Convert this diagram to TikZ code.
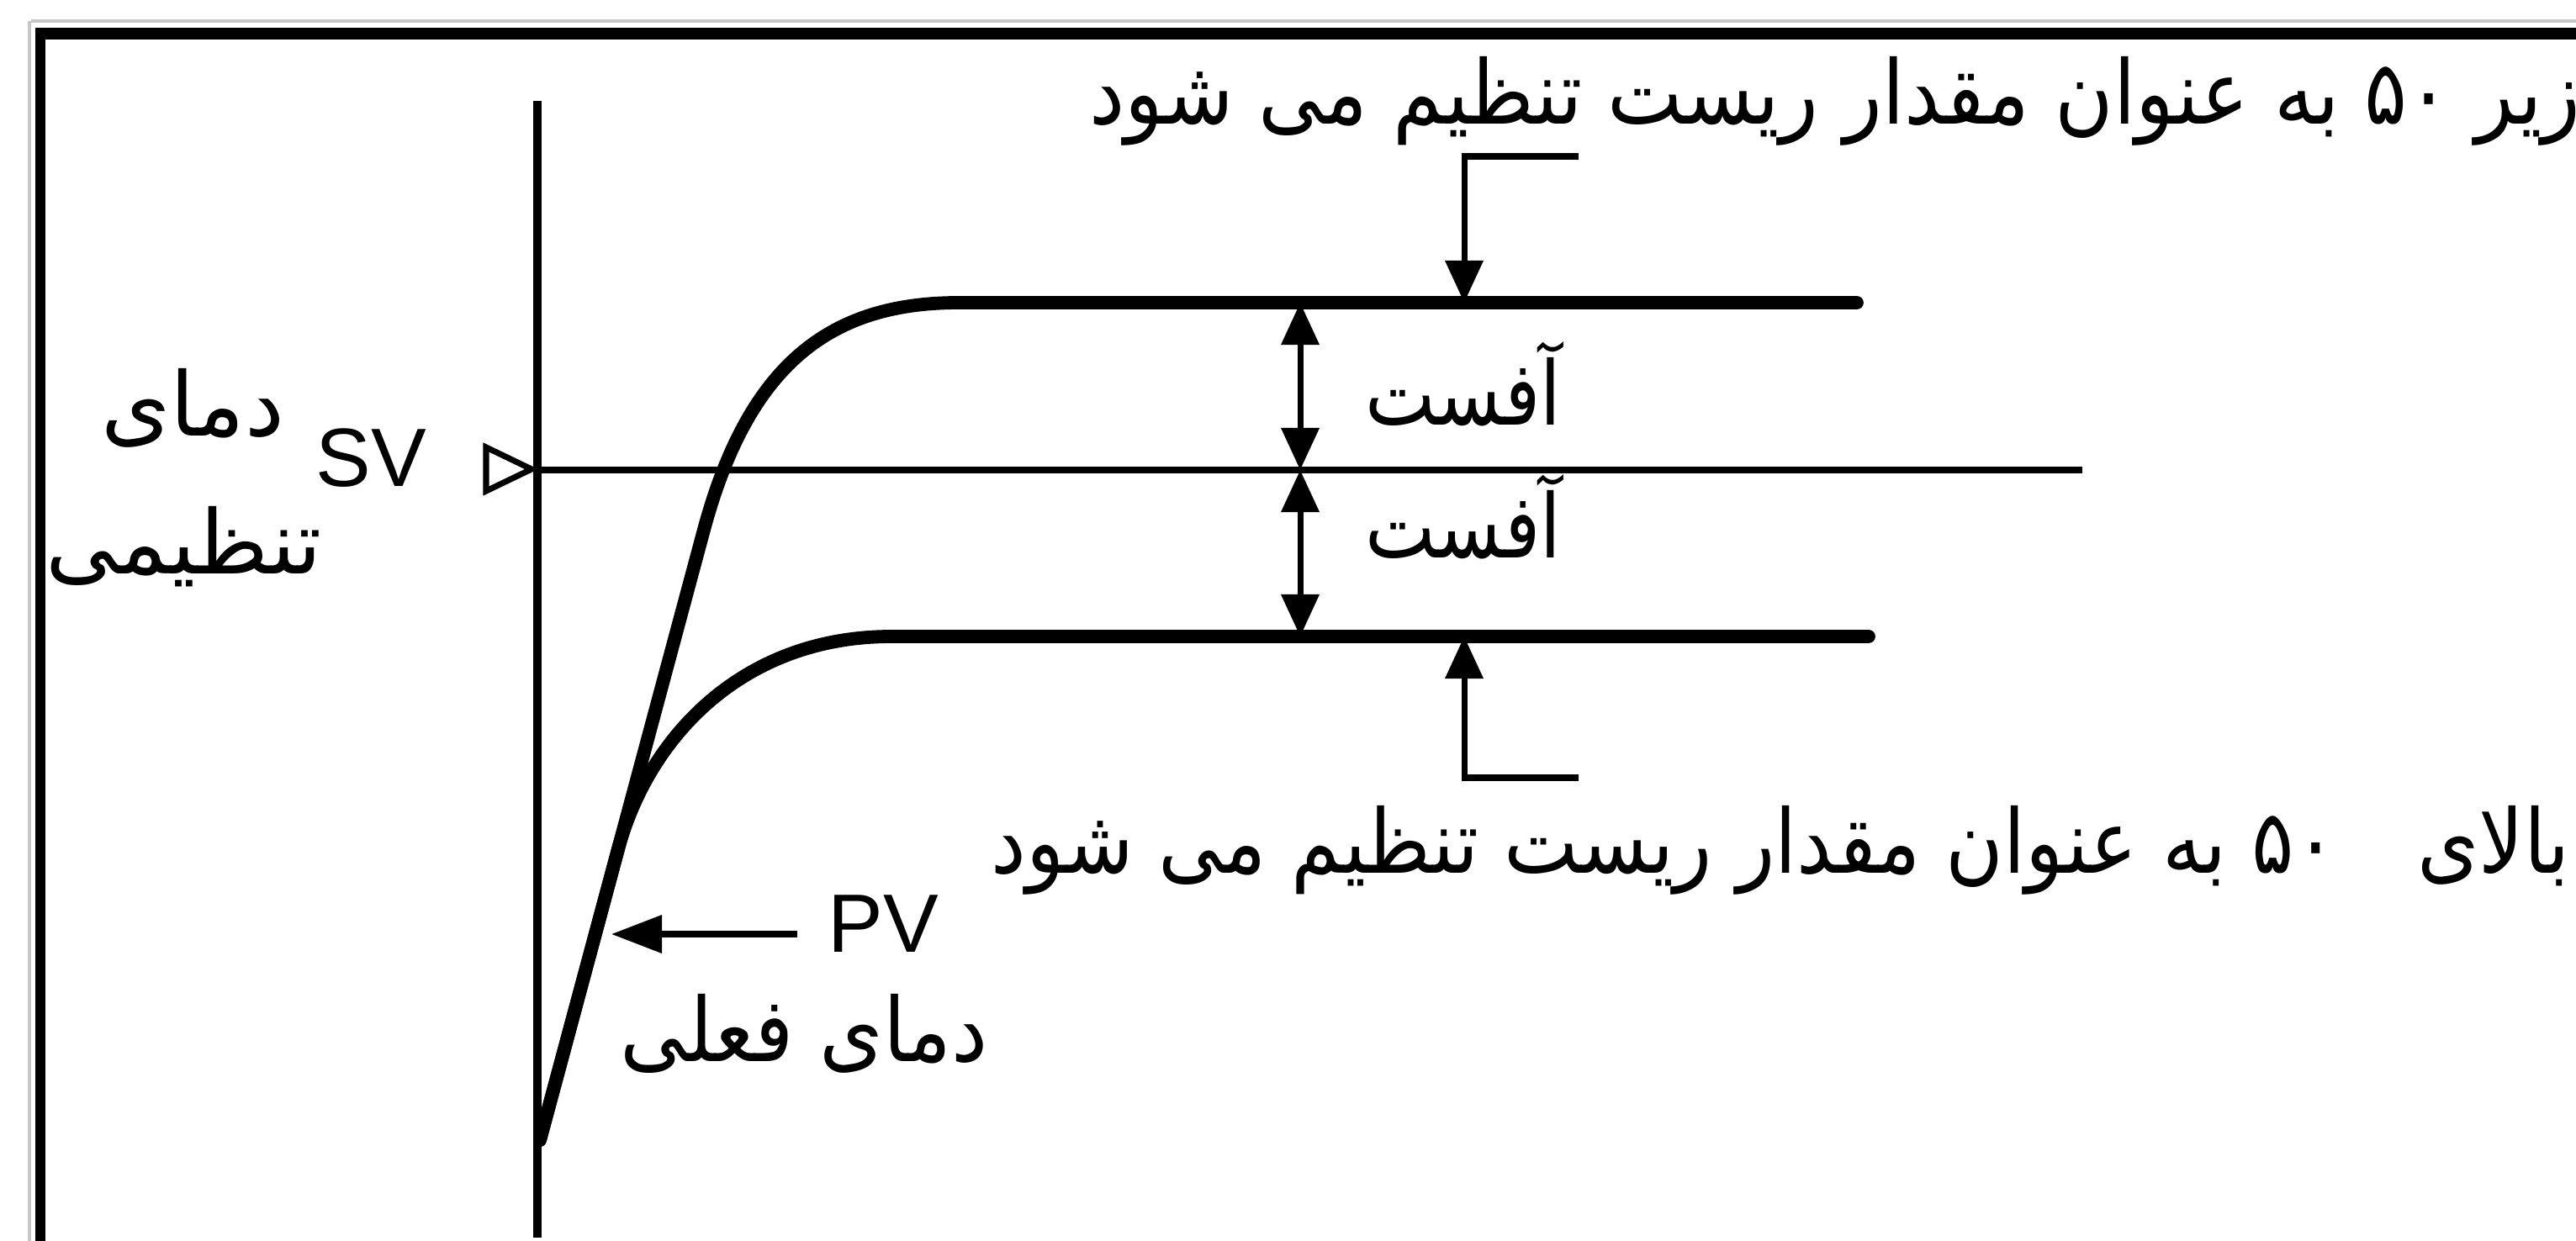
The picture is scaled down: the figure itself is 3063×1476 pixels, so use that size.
\documentclass[tikz,border=0pt]{standalone}
\usepackage{fontspec}
\usepackage{graphicx}
\setmainfont{Liberation Sans}
\newfontfamily\arabicfont[Script=Arabic]{DejaVu Sans}
\TeXXeTstate=1
\usetikzlibrary{arrows.meta}
\newcommand{\fanarrow}[2]{\scalebox{#1}[1]{#2}}
\begin{document}
\begin{tikzpicture}[x=0.01cm,y=-0.01cm,
  frameline/.style={line width=4pt},
  greyline/.style={line width=1.2pt, black!22},
  curve/.style={line width=4.5pt, line cap=round, line join=round},
  axisline/.style={line width=3.1pt},
  svline/.style={line width=2.3pt},
  thinline/.style={line width=2pt},
  headtip/.style={-{Triangle[length=5mm,width=4.4mm]}},
  twotips/.style={{Triangle[length=5mm,width=4.4mm]}-{Triangle[length=5mm,width=4.4mm]}},
  fatxt/.style={inner sep=0pt, font=\fontsize{30}{36}\arabicfont},
  lattxt/.style={inner sep=0pt, font=\fontsize{28}{34}\selectfont}]
\useasboundingbox (0,0) rectangle (3063,1476);
% frame
\draw[greyline] (37,25) -- (3063,25);
\draw[greyline] (35,25) -- (35,1476);
\draw[frameline] (42,40) -- (3063,40);
\draw[line width=3.4pt] (48,33) -- (48,1476);
% axes
\coordinate (axtop) at (639,120);
\coordinate (axbot) at (639,1472);
\coordinate (sv) at (639,559);
\coordinate (svend) at (2476,559);
\draw[axisline] (axtop) -- (axbot);
\draw[svline] (sv) -- (svend);
\draw[line width=2pt, line join=miter] (578,532) -- (632,558) -- (578,584) -- cycle;
% curves
\coordinate (o) at (642,1356);
\coordinate (ua) at (837,630);
\coordinate (ub) at (1140,360);
\coordinate (uend) at (2208,360);
\coordinate (la) at (735,1010);
\coordinate (lb) at (1060,757);
\coordinate (lend) at (2222,757);
\draw[curve] (o) -- (ua) .. controls (891,430) and (990,360) .. (ub) -- (uend);
\draw[curve] (o) -- (la) .. controls (770,880) and (880,757) .. (lb) -- (lend);
% offset arrows
\coordinate (d1) at (1546,360);
\coordinate (d2) at (1546,559);
\coordinate (d3) at (1546,757);
\draw[thinline, twotips] (d1) -- (d2);
\draw[thinline, twotips] (d2) -- (d3);
% brackets
\coordinate (b1) at (1877,186);
\coordinate (b1c) at (1741,186);
\coordinate (b1t) at (1741,360);
\coordinate (b2) at (1877,925);
\coordinate (b2c) at (1741,925);
\coordinate (b2t) at (1741,757);
\draw[thinline, headtip] (b1) -- (b1c) -- (b1t);
\draw[thinline, headtip] (b2) -- (b2c) -- (b2t);
% PV arrow
\coordinate (pvs) at (948,1111);
\coordinate (pvt) at (727,1111);
\draw[thinline, -{Triangle[length=6mm,width=4.4mm]}] (pvs) -- (pvt);
% texts
\node[fatxt, anchor=base west] (toptext) at (1295,148) {\fanarrow{0.90}{\beginR زیر \beginL۵۰\endL{} به عنوان مقدار ریست تنظیم می شود\endR}};
\node[fatxt, anchor=base west] (bottext) at (1178,1038) {\fanarrow{0.89}{\beginR بالای\hspace{0.7em} \beginL۵۰\endL{} به عنوان مقدار ریست تنظیم می شود\endR}};
\node[fatxt, anchor=base east] (off1) at (1857,505) {\fanarrow{0.84}{\beginR آفست\endR}};
\node[fatxt, anchor=base east] (off2) at (1857,663) {\fanarrow{0.84}{\beginR آفست\endR}};
\node[fatxt, anchor=base east] (dama) at (339,518) {\beginR دمای\endR};
\node[fatxt, anchor=base east] (tanz) at (384,682) {\beginR تنظیمی\endR};
\node[fatxt, anchor=base east] (cur) at (1176,1262) {\fanarrow{0.92}{\beginR دمای فعلی\endR}};
\node[lattxt, anchor=base west] (svtxt) at (375,578) {SV};
\node[lattxt, anchor=base west] (pvtxt) at (984,1132) {PV};
\end{tikzpicture}
\end{document}
